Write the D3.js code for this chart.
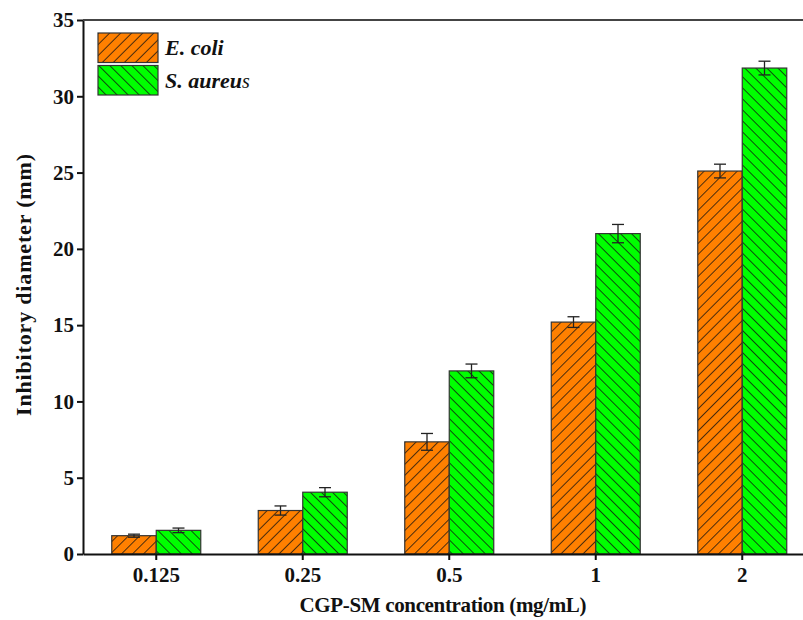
<!DOCTYPE html>
<html>
<head>
<meta charset="utf-8">
<script src="https://cdn.jsdelivr.net/npm/d3@7"></script>
<style>
  body { margin: 0; background: #fff; }
  svg { display: block; }
  svg text { font-family: "Liberation Serif", "Times New Roman", "DejaVu Serif", serif; }
</style>
</head>
<body>
<svg id="chart"></svg>
<script>
// data
const concentrations = ["0.125", "0.25", "0.5", "1", "2"];
const seriesNames = ["E. coli", "S. aureus"];
const ecoliValues = [1.2, 2.85, 7.35, 15.2, 25.1];
const ecoliErrors = [0.1, 0.3, 0.55, 0.35, 0.45];
const aureusValues = [1.55, 4.05, 12.0, 21.0, 31.85];
const aureusErrors = [0.15, 0.3, 0.45, 0.6, 0.45];
const yTicks = [0, 5, 10, 15, 20, 25, 30, 35];

const width = 803, height = 620;
const margin = {left: 83, top: 20, bottom: 66};
const step = 146.5;

const svg = d3.select("#chart").attr("width", width).attr("height", height);

const x = d3.scaleBand()
  .domain(concentrations)
  .range([margin.left, margin.left + step * concentrations.length])
  .padding(0);

const y = d3.scaleLinear()
  .domain([0, 35])
  .range([height - margin.bottom, margin.top]);

const barW = 44.5;
const xSub = d3.scaleBand().domain(seriesNames).range([-barW, barW]);

const colors = {"E. coli": "#ff8000", "S. aureus": "#00ff00"};

// hatch patterns
const defs = svg.append("defs");
function hatch(id, fill, angle) {
  const p = defs.append("pattern")
    .attr("id", id)
    .attr("patternUnits", "userSpaceOnUse")
    .attr("width", 7.8).attr("height", 7.8)
    .attr("patternTransform", "rotate(" + angle + ")");
  p.append("rect").attr("width", 7.8).attr("height", 7.8).attr("fill", fill);
  p.append("line").attr("x1", 0).attr("y1", 0).attr("x2", 0).attr("y2", 7.8)
    .attr("stroke", "#111").attr("stroke-width", 1.5);
}
hatch("hatch-ecoli", colors["E. coli"], 45);
hatch("hatch-aureus", colors["S. aureus"], -45);
const fills = {"E. coli": "url(#hatch-ecoli)", "S. aureus": "url(#hatch-aureus)"};

const rows = concentrations.map((c, i) => ({
  c: c,
  bars: [
    {name: "E. coli", v: ecoliValues[i], e: ecoliErrors[i]},
    {name: "S. aureus", v: aureusValues[i], e: aureusErrors[i]}
  ]
}));

const groups = svg.append("g").attr("class", "bars")
  .selectAll("g")
  .data(rows)
  .enter()
  .append("g")
  .attr("transform", d => "translate(" + (x(d.c) + x.bandwidth() / 2) + ",0)");

groups.selectAll("rect")
  .data(d => d.bars)
  .enter()
  .append("rect")
  .attr("x", d => xSub(d.name))
  .attr("width", xSub.bandwidth())
  .attr("y", d => y(d.v))
  .attr("height", d => y(0) - y(d.v))
  .attr("fill", d => fills[d.name])
  .attr("stroke", "#333")
  .attr("stroke-width", 1.2);

// error bars
const err = groups.selectAll("g.err")
  .data(d => d.bars)
  .enter()
  .append("g")
  .attr("class", "err")
  .attr("stroke", "#222")
  .attr("stroke-width", 1.3);
const capW = 6;
err.append("line")
  .attr("x1", d => xSub(d.name) + xSub.bandwidth() / 2)
  .attr("x2", d => xSub(d.name) + xSub.bandwidth() / 2)
  .attr("y1", d => y(d.v - d.e))
  .attr("y2", d => y(d.v + d.e));
[-1, 1].forEach(s => {
  err.append("line")
    .attr("x1", d => xSub(d.name) + xSub.bandwidth() / 2 - capW)
    .attr("x2", d => xSub(d.name) + xSub.bandwidth() / 2 + capW)
    .attr("y1", d => y(d.v + s * d.e))
    .attr("y2", d => y(d.v + s * d.e));
});

// axes
const yAxis = svg.append("g")
  .attr("transform", "translate(" + margin.left + ",0)")
  .call(d3.axisLeft(y).tickValues(yTicks).tickSize(6).tickSizeOuter(0).tickPadding(3));
const xAxis = svg.append("g")
  .attr("transform", "translate(0," + y(0) + ")")
  .call(d3.axisBottom(x).tickSize(6).tickSizeOuter(0).tickPadding(7));

[yAxis, xAxis].forEach(a => {
  a.attr("font-family", null).attr("font-size", null);
  a.select(".domain").attr("stroke", "#111").attr("stroke-width", 2);
  a.selectAll(".tick line").attr("stroke", "#111").attr("stroke-width", 2);
  a.selectAll(".tick text")
    .attr("fill", "#111")
    .style("font-weight", "bold")
    .style("font-size", "21px");
});

// top frame line
svg.append("line")
  .attr("x1", margin.left).attr("x2", width)
  .attr("y1", y(35)).attr("y2", y(35))
  .attr("stroke", "#444").attr("stroke-width", 2);

// axis titles
svg.append("text")
  .attr("x", 443).attr("y", 612)
  .attr("text-anchor", "middle")
  .attr("textLength", 287)
  .style("font-weight", "bold").style("font-size", "21px")
  .attr("fill", "#111")
  .text("CGP-SM concentration (mg/mL)");

svg.append("text")
  .attr("transform", "translate(31," + (y(17.5) - 2) + ") rotate(-90)")
  .attr("text-anchor", "middle")
  .attr("textLength", 262)
  .style("font-weight", "bold").style("font-size", "22px")
  .attr("fill", "#111")
  .text("Inhibitory diameter (mm)");

// legend
const legend = svg.append("g").attr("class", "legend")
  .selectAll("g")
  .data(seriesNames)
  .enter()
  .append("g")
  .attr("transform", (d, i) => "translate(98," + (33 + i * 32.5) + ")");
legend.append("rect")
  .attr("width", 60).attr("height", 29.5)
  .attr("fill", d => fills[d])
  .attr("stroke", "#333").attr("stroke-width", 1.2);
const lt = legend.append("text")
  .attr("x", 67).attr("y", 22)
  .style("font-style", "italic").style("font-weight", "bold").style("font-size", "22px")
  .attr("fill", "#111");
lt.append("tspan").text(d => d === "S. aureus" ? "S. aureu" : d);
lt.append("tspan").style("font-weight", "normal").style("font-size", "20px")
  .text(d => d === "S. aureus" ? "s" : "");
</script>
</body>
</html>
